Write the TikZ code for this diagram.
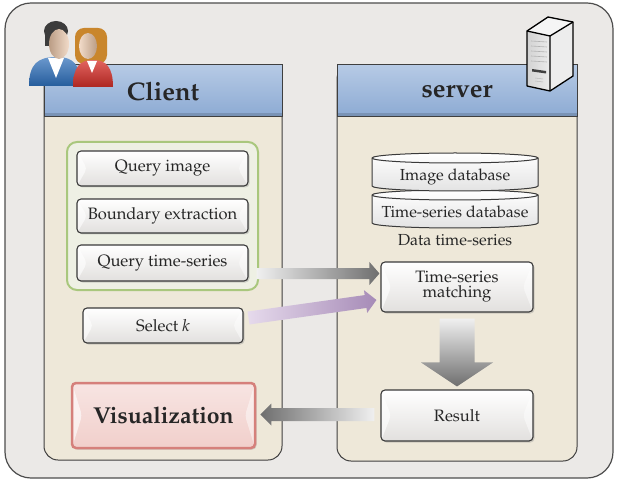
\documentclass[tikz,border=0pt]{standalone}
\usepackage[T1]{fontenc}
\usepackage{mathpazo}
\usetikzlibrary{calc,shadows}

\definecolor{outerfill}{HTML}{EBE9E7}
\definecolor{outerline}{HTML}{4D4D4D}
\definecolor{panelfill}{HTML}{EEE8D9}
\definecolor{panelline}{HTML}{3F3F3F}
\definecolor{headtop}{HTML}{B6CAE5}
\definecolor{headbot}{HTML}{8CAAD3}
\definecolor{grpline}{HTML}{A9C77D}
\definecolor{grpfill}{HTML}{EEF0E4}
\definecolor{boxbot}{HTML}{E2E0DE}
\definecolor{boxline}{HTML}{3A3A3A}
\definecolor{visfill}{HTML}{F1CFCB}
\definecolor{visline}{HTML}{D5807B}
\definecolor{arrlight}{HTML}{F0F0F0}
\definecolor{arrdark}{HTML}{6E6E6E}
\definecolor{lilac}{HTML}{E6DAEC}
\definecolor{purpdark}{HTML}{A68BB7}
\definecolor{txt}{HTML}{262626}
\definecolor{skin}{HTML}{E9C4A6}
\definecolor{manblue}{HTML}{2C6DB8}
\definecolor{womanred}{HTML}{D8302A}
\definecolor{hairdark}{HTML}{3C3C3C}
\definecolor{hairbrown}{HTML}{C9862C}

\tikzset{
  panel/.style={draw=panelline, line width=1pt, fill=panelfill, rounded corners=14pt},
  headbar/.style={draw=panelline, line width=1pt, top color=headtop, bottom color=headbot,
                  minimum height=52pt, inner sep=0pt, text=txt,
                  font=\fontsize{25.5}{28}\selectfont\bfseries,
                  path picture={\fill[headbot!60!black, opacity=.35]
                    (path picture bounding box.south west) rectangle
                    ($(path picture bounding box.south east)+(0,4pt)$);}},
  item/.style={draw=boxline, line width=1.1pt, rounded corners=4pt, top color=white,
               bottom color=boxbot, inner sep=0pt, align=center, text=txt,
               font=\fontsize{16.5}{15}\selectfont,
               drop shadow={opacity=.3, shadow xshift=1.5pt, shadow yshift=-1.5pt},
               path picture={
                 \fill[white, opacity=.6] (path picture bounding box.north west)
                   -- ($(path picture bounding box.west)+(10pt,0)$)
                   -- (path picture bounding box.south west) -- cycle;
                 \fill[white, opacity=.45] (path picture bounding box.north east)
                   -- ($(path picture bounding box.east)+(-10pt,0)$)
                   -- (path picture bounding box.south east) -- cycle;}},
  dbshape/.style={draw=boxline, line width=1pt, top color=white, bottom color=gray!22},
  dbtext/.style={font=\fontsize{16}{16}\selectfont, text=txt, inner sep=0pt},
  x=1pt, y=1pt
}

\begin{document}
\begin{tikzpicture}
  \useasboundingbox (0,0) rectangle (617,482);

  % outer frame
  \draw[draw=outerline, line width=1.2pt, fill=outerfill, rounded corners=26pt]
    (5,4) rectangle (613,479);

  % the two columns
  \draw[panel] (44,22) rectangle (282,417);
  \draw[panel] (337,21) rectangle (577,417);
  \node[headbar, minimum width=238pt] (client) at (163,391) {Client};
  \node[headbar, minimum width=240pt] (server) at (457,391) {server};

  % query inputs
  \draw[draw=grpline, line width=2pt, fill=grpfill, rounded corners=10pt]
    (67,192) rectangle (258,340);
  \node[item, minimum width=171pt, minimum height=35pt] (qimg) at (162.5,313.5) {Query image};
  \node[item, minimum width=171pt, minimum height=34pt] (bnd) at (162.5,266) {Boundary extraction};
  \node[item, minimum width=171pt, minimum height=36pt] (qts) at (162.5,219) {Query time-series};
  \node[item, minimum width=160pt, minimum height=35pt] (sel) at (163,156.5) {Select \textit{k}};
  \node[item, draw=visline, line width=2.5pt, top color=visfill!55, bottom color=visfill,
        minimum width=183pt, minimum height=65pt, font=\fontsize{23}{25}\selectfont\bfseries]
        (vis) at (163.5,66.5) {Visualization};

  % databases
  \filldraw[dbshape] (372,287) -- (372,259)
    arc[start angle=180, end angle=360, x radius=83, y radius=5] -- (538,287)
    arc[start angle=0, end angle=180, x radius=83, y radius=5] -- cycle;
  \draw[boxline, line width=1pt] (372,287) arc[start angle=180, end angle=360, x radius=83, y radius=5];
  \filldraw[dbshape] (372,324) -- (372,296)
    arc[start angle=180, end angle=360, x radius=83, y radius=5] -- (538,324)
    arc[start angle=0, end angle=180, x radius=83, y radius=5] -- cycle;
  \draw[boxline, line width=1pt] (372,324) arc[start angle=180, end angle=360, x radius=83, y radius=5];
  \node[dbtext] (imgdb) at (455,305) {Image database};
  \node[dbtext] (tsdb) at (455,270) {Time-series database};
  \node[dbtext] (dts) at (455,242) {Data time-series};

  \node[item, minimum width=152pt, minimum height=50pt] (match) at (457,195) {Time-series\\matching};
  \node[item, minimum width=152pt, minimum height=51pt] (result) at (457,66.5) {Result};

  % block arrows
  \shade[left color=arrlight, right color=arrdark]
    let \p1=(qts.east), \p2=(match.west) in
    (\x1+8,\y1-16) -- (\x2-11,\y1-16) -- (\x2-11,\y1-22) -- (\x2-1,\y1-10.5)
    -- (\x2-11,\y1+1) -- (\x2-11,\y1-5) -- (\x1+8,\y1-5) -- cycle;

  \coordinate (ps) at ($(sel.east)+(5,7.5)$);
  \coordinate (pt) at ($(match.west)+(-4,-13)$);
  \coordinate (ph) at ($(pt)!11pt!(ps)$);
  \shade[left color=lilac, right color=purpdark]
    ($(ps)!6.5pt!90:(pt)$) -- ($(ph)!6.5pt!-90:(ps)$) -- ($(ph)!11.5pt!-90:(ps)$) -- (pt)
    -- ($(ph)!11.5pt!90:(ps)$) -- ($(ph)!6.5pt!90:(ps)$) -- ($(ps)!6.5pt!-90:(pt)$) -- cycle;

  \shade[top color=arrlight, bottom color=arrdark]
    let \p1=(match.south), \p2=(result.north) in
    (\x1-17.5,\y1-6) -- (\x1+17.5,\y1-6) -- (\x1+17.5,\y2+27) -- (\x1+36,\y2+27)
    -- (\x1,\y2+3) -- (\x1-36,\y2+27) -- (\x1-17.5,\y2+27) -- cycle;

  \shade[left color=arrdark, right color=arrlight]
    let \p1=(result.west), \p2=(vis.east) in
    (\x1-6,\y1-5.5) -- (\x2+15,\y1-5.5) -- (\x2+15,\y1-10) -- (\x2+4,\y1+1)
    -- (\x2+15,\y1+12) -- (\x2+15,\y1+7.5) -- (\x1-6,\y1+7.5) -- cycle;

  % users
  \shade[top color=manblue!70!white, bottom color=manblue!85!black]
    (29,396) .. controls (29,418) and (38,425) .. (56,425)
    .. controls (74,425) and (80,418) .. (80,396) -- cycle;
  \fill[white] (48,424) -- (56,404) -- (64,424) -- cycle;
  \fill[hairdark] (56,451) ellipse[x radius=12, y radius=10];
  \fill[hairdark] (45,436) rectangle (56,450);
  \shade[left color=skin!80!black, right color=skin!60!white] (59,438) ellipse[x radius=10, y radius=15];
  \fill[hairbrown, rounded corners=9pt] (75,418) rectangle (107,454);
  \shade[top color=womanred!75!white, bottom color=womanred!80!black]
    (73,395) .. controls (73,415) and (80,422) .. (93,422)
    .. controls (106,422) and (113,415) .. (113,395) -- cycle;
  \fill[white] (87,421) -- (92,409) -- (97,421) -- cycle;
  \shade[left color=skin!60!white, right color=skin!80!black] (88,436) ellipse[x radius=9, y radius=13];

  % server tower
  \begin{scope}[draw=black, line width=1.3pt, line join=round]
    \fill[gray!8] (527,451) -- (550,446) -- (573,460) -- (548,465) -- cycle;
    \fill[gray!14] (550,446) -- (573,460) -- (573,406) -- (550,391) -- cycle;
    \shade[left color=gray!35, right color=gray!15] (527,451) -- (550,446) -- (550,391) -- (527,396) -- cycle;
    \draw (527,451) -- (548,465) -- (573,460) -- (573,406) -- (550,391) -- (527,396) -- cycle;
    \draw (527,451) -- (550,446) -- (573,460) (550,446) -- (550,391);
  \end{scope}
  \foreach \yy in {441,436,431,426,421}
    \draw[gray!60, line width=.6pt] (531,\yy) -- (547,\yy-1);
  \fill[black!75] (532,413) -- (546,411) -- (546,408.5) -- (532,410.5) -- cycle;
  \foreach \yy in {404,401}
    \draw[gray!55, line width=.5pt] (535,\yy) -- (543,\yy-1);
\end{tikzpicture}
\end{document}
